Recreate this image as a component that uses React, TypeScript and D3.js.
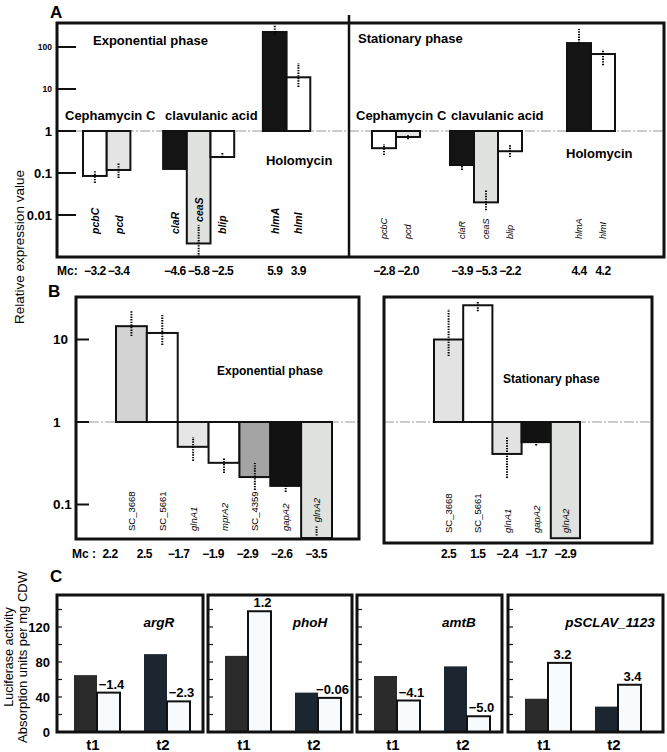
import React from "react";
import * as d3 from "d3";

const W = 667;
const H = 752;
const FONT = "'Liberation Sans', Arial, Helvetica, sans-serif";

// ---------- Panel A data ----------
const genesA = ["pcbC", "pcd", "claR", "ceaS", "blip", "hlmA", "hlmI"];
const groupOfA = [0, 0, 1, 1, 1, 2, 2];
const groupNamesA = ["Cephamycin C", "clavulanic acid", "Holomycin"];
const fillA = ["#ffffff", "#e4e4e4", "#141414", "#dfe2de", "#ffffff", "#141414", "#ffffff"];
const expA = [0.085, 0.118, 0.125, 0.0021, 0.24, 228, 19];
const expALo = [0.058, 0.076, 0.125, 0.001, 0.24, 193, 11.2];
const expAHi = [0.115, 0.17, 0.125, 0.0058, 0.32, 333, 41.7];
const statA = [0.39, 0.72, 0.155, 0.02, 0.33, 124, 68];
const statALo = [0.27, 0.64, 0.118, 0.013, 0.24, 124, 37];
const statAHi = [0.49, 0.85, 0.147, 0.039, 0.46, 268, 85];
const mcExpA = ["\u22123.2", "\u22123.4", "\u22124.6", "\u22125.8", "\u22122.5", "5.9", "3.9"];
const mcStatA = ["\u22122.8", "\u22122.0", "\u22123.9", "\u22125.3", "\u22122.2", "4.4", "4.2"];
const ticksA = [100, 10, 1, 0.1, 0.01];
const tickLabelsA = ["100", "10", "1", "0.1", "0.01"];

// ---------- Panel B data ----------
const genesBExp = ["SC_3668", "SC_5661", "glnA1", "mprA2", "SC_4359", "gapA2", "glnA2"];
const fillBExp = ["#d3d3d3", "#ffffff", "#e6e6e6", "#ffffff", "#a4a4a4", "#121212", "#dfe2df"];
const expB = [14.5, 12, 0.5, 0.32, 0.215, 0.168, 0.039];
const expBLo = [11.0, 8.6, 0.337, 0.241, 0.15, 0.142, 0.042];
const expBHi = [22.8, 19.8, 0.66, 0.366, 0.318, 0.168, 0.056];
const mcExpB = ["2.2", "2.5", "\u22121.7", "\u22121.9", "\u22122.9", "\u22122.6", "\u22123.5"];
const genesBStat = ["SC_3668", "SC_5661", "glnA1", "gapA2", "glnA2"];
const fillBStat = ["#e3e3e3", "#ffffff", "#e2e2e2", "#121212", "#dfe2df"];
const statB = [10, 26, 0.41, 0.57, 0.039];
const statBLo = [6.3, 22, 0.21, 0.52, 0.039];
const statBHi = [23.4, 28.5, 0.66, 0.57, 0.039];
const mcStatB = ["2.5", "1.5", "\u22122.4", "\u22121.7", "\u22122.9"];
const ticksB = [10, 1, 0.1];
const tickLabelsB = ["10", "1", "0.1"];

// ---------- Panel C data ----------
const genesC = ["argR", "phoH", "amtB", "pSCLAV_1123"];
const timesC = ["t1", "t2"];
const ctrlT1 = [65, 87, 64, 38];
const mutT1 = [45, 138, 36, 79];
const ctrlT2 = [89, 45, 75, 29];
const mutT2 = [35, 39, 18, 54];
const foldT1 = ["\u22121.4", "1.2", "\u22124.1", "3.2"];
const foldT2 = ["\u22122.3", "\u22120.06", "\u22125.0", "3.4"];
const ticksC = [0, 40, 80, 120];
const minorC = [20, 40, 60, 80, 100, 120, 140];

const MC_SIZE = 12;
const MC_LS = -0.5;

function ErrBar({ x, y1, y2 }: { x: number; y1: number; y2: number }) {
  if (Math.abs(y1 - y2) < 0.5) return null;
  return <line x1={x} x2={x} y1={y1} y2={y2} stroke="#000" strokeWidth={2} strokeDasharray="1.4 1.2" />;
}

function PanelA(props: any) {
  const { vals, lo, hi, mc, x0, unit, gaps, y, geneY, geneBold, geneSize, labelDx, labelY, mcY, lineX } = props;
  const xs = d3.scaleLinear().domain([0, 1]).range([x0, x0 + unit]);
  const pos = genesA.map((_, i) => i + gaps.slice(0, groupOfA[i]).reduce((a: number, b: number) => a + b, 0));
  const y1 = y(1);
  return (
    <g>
      <line x1={lineX[0]} x2={lineX[1]} y1={y1} y2={y1} stroke="#9a9a9a" strokeWidth={1} strokeDasharray="10 2 2 2" />
      {genesA.map((g, i) => {
        const xa = xs(pos[i]);
        const xb = xs(pos[i] + 1);
        const yv = y(vals[i]);
        return (
          <rect key={g} x={xa} y={Math.min(y1, yv)} width={xb - xa} height={Math.abs(yv - y1)}
            fill={fillA[i]} stroke="#111" strokeWidth={2} />
        );
      })}
      {genesA.map((g, i) => {
        const cx = (xs(pos[i]) + xs(pos[i] + 1)) / 2;
        return <ErrBar key={g} x={cx} y1={Math.min(y(lo[i]), 257)} y2={y(hi[i])} />;
      })}
      {genesA.map((g, i) => {
        const cx = (xs(pos[i]) + xs(pos[i] + 1)) / 2;
        const errTop = y(hi[i]);
        const ay = vals[i] < 1 && y(vals[i]) > geneY - 20 ? Math.min(geneY, errTop - 3) : geneY;
        return (
          <text key={g} transform={`translate(${cx},${ay}) rotate(-90)`} dominantBaseline="central"
            fontStyle="italic" fontWeight={geneBold ? "bold" : "normal"} fontSize={geneSize}>{g}</text>
        );
      })}
      {groupNamesA.map((n, gi) => {
        const first = groupOfA.indexOf(gi);
        return (
          <text key={n} x={xs(pos[first]) + labelDx[gi]} y={labelY[gi]} fontWeight="bold" fontSize={13}>{n}</text>
        );
      })}
      {genesA.map((g, i) => {
        const cx = (xs(pos[i]) + xs(pos[i] + 1)) / 2;
        return <text key={g} x={cx} y={mcY} textAnchor="middle" fontWeight="bold" fontSize={MC_SIZE}
          letterSpacing={MC_LS}>{mc[i]}</text>;
      })}
    </g>
  );
}

function PanelB(props: any) {
  const { genes, fills, vals, lo, hi, range, y, lineX, geneY, clipBottom } = props;
  const x = d3.scaleBand<string>().domain(genes).range(range).paddingInner(0);
  const y1 = y(1);
  return (
    <g>
      <line x1={lineX[0]} x2={lineX[1]} y1={y1} y2={y1} stroke="#9a9a9a" strokeWidth={1} strokeDasharray="10 2 2 2" />
      {genes.map((g: string, i: number) => {
        const yv = Math.min(y(vals[i]), clipBottom);
        return <rect key={g} x={x(g)} y={Math.min(y1, yv)} width={x.bandwidth()} height={Math.abs(yv - y1)}
          fill={fills[i]} stroke="#111" strokeWidth={2} />;
      })}
      {genes.map((g: string, i: number) => (
        <ErrBar key={g} x={(x(g) as number) + x.bandwidth() / 2} y1={y(lo[i])} y2={y(hi[i])} />
      ))}
      {genes.map((g: string, i: number) => {
        const errTop = y(hi[i]);
        const ay = vals[i] < 1 && y(vals[i]) > geneY - 20 && errTop < geneY ? Math.min(geneY, errTop - 3) : geneY;
        return (
          <text key={g} transform={`translate(${(x(g) as number) + x.bandwidth() / 2},${ay}) rotate(-90)`}
            dominantBaseline="central" fontSize={9.5} fontStyle={g.startsWith("SC_") ? "normal" : "italic"}>{g}</text>
        );
      })}
    </g>
  );
}

export default function App() {
  const yA = d3.scaleLog().domain([0.001, 1000]).range([257, 5]);
  const yB = d3.scaleLog().domain([0.01, 100]).range([587, 257]);
  const yC = d3.scaleLinear().domain([0, 160]).range([732, 592]);

  const xBRight = d3.scaleBand<string>().domain(genesBStat).range([434, 580]);
  const mcBLeft = d3.scalePoint<string>().domain(genesBExp).range([110, 316]);

  const cLefts = [57, 208, 357, 508];
  const cRights = [203, 352, 502, 663];

  return (
    <svg width={W} height={H} style={{ position: "absolute", left: 0, top: 0, background: "#fff" }}
      fontFamily={FONT}>
      <rect x={0} y={0} width={W} height={H} fill="#fff" />

      {/* ================= Panel A ================= */}
      <text x={50} y={18} fontWeight="bold" fontSize={17}>A</text>
      <text transform="translate(19,247) rotate(-90)" textAnchor="middle" dominantBaseline="central" fontSize={13.5}>
        Relative expression value
      </text>
      {ticksA.map((t, i) => (
        <g key={t}>
          <line x1={57} x2={76} y1={yA(t)} y2={yA(t)} stroke="#111" strokeWidth={2} />
          <text x={52} y={yA(t)} textAnchor="end" dominantBaseline="central" fontWeight="bold"
            fontSize={t >= 10 ? 8.5 : 13}>{tickLabelsA[i]}</text>
        </g>
      ))}
      <PanelA vals={expA} lo={expALo} hi={expAHi} mc={mcExpA} x0={83} unit={23.7} gaps={[1.38, 1.21]}
        y={yA} geneY={234} geneBold={true} geneSize={10.5} labelDx={[-18, 2, 3]} labelY={[120, 120, 165]}
        mcY={275} lineX={[76, 349]} />
      <PanelA vals={statA} lo={statALo} hi={statAHi} mc={mcStatA} x0={372} unit={24} gaps={[1.25, 1.875]}
        y={yA} geneY={239} geneBold={false} geneSize={9} labelDx={[-16, 1, -1]} labelY={[120, 120, 158]}
        mcY={275} lineX={[349, 664]} />
      <text x={93} y={45} fontWeight="bold" fontSize={13}>Exponential phase</text>
      <text x={358} y={43} fontWeight="bold" fontSize={13}>Stationary phase</text>
      <text x={57} y={275} fontWeight="bold" fontSize={MC_SIZE}>Mc:</text>
      <rect x={57} y={23} width={607} height={234} fill="none" stroke="#111" strokeWidth={3} />
      <line x1={349} x2={349} y1={15} y2={257} stroke="#111" strokeWidth={2.5} />

      {/* ================= Panel B ================= */}
      <text x={48} y={297} fontWeight="bold" fontSize={17}>B</text>
      {ticksB.map((t, i) => (
        <g key={t}>
          <line x1={76} x2={89} y1={yB(t)} y2={yB(t)} stroke="#111" strokeWidth={2} />
          <text x={53} y={yB(t)} dominantBaseline="central" fontWeight="bold" fontSize={13.5}>{tickLabelsB[i]}</text>
        </g>
      ))}
      <PanelB genes={genesBExp} fills={fillBExp} vals={expB} lo={expBLo} hi={expBHi} range={[116, 332]}
        y={yB} lineX={[89, 359]} geneY={531} clipBottom={538} />
      <PanelB genes={genesBStat} fills={fillBStat} vals={statB} lo={statBLo} hi={statBHi} range={[434, 580]}
        y={yB} lineX={[384, 652]} geneY={533} clipBottom={539} />
      <text x={217} y={375} fontWeight="bold" fontSize={12}>Exponential phase</text>
      <text x={503} y={383} fontWeight="bold" fontSize={12}>Stationary phase</text>
      <rect x={76} y={297} width={283} height={242} fill="none" stroke="#111" strokeWidth={3} />
      <rect x={384} y={297} width={268} height={246} fill="none" stroke="#111" strokeWidth={3} />
      <text x={72} y={558} fontWeight="bold" fontSize={MC_SIZE}>Mc :</text>
      {genesBExp.map((g, i) => (
        <text key={g} x={mcBLeft(g)} y={558} textAnchor="middle" fontWeight="bold" fontSize={MC_SIZE}
          letterSpacing={MC_LS}>{mcExpB[i]}</text>
      ))}
      {genesBStat.map((g, i) => (
        <text key={g} x={(xBRight(g) as number) + xBRight.bandwidth() / 2} y={558} textAnchor="middle"
          fontWeight="bold" fontSize={MC_SIZE} letterSpacing={MC_LS}>{mcStatB[i]}</text>
      ))}

      {/* ================= Panel C ================= */}
      <text x={50} y={582} fontWeight="bold" fontSize={17}>C</text>
      <text transform="translate(9,657) rotate(-90)" textAnchor="middle" dominantBaseline="central" fontSize={12.5}>
        Luciferase activity
      </text>
      <text transform="translate(22,657) rotate(-90)" textAnchor="middle" dominantBaseline="central" fontSize={13}>
        Absorption units per mg CDW
      </text>
      {ticksC.map((t) => (
        <text key={t} x={50} y={yC(t)} textAnchor="end" dominantBaseline="central" fontWeight="bold" fontSize={13}>{t}</text>
      ))}
      {genesC.map((g, k) => {
        const L = cLefts[k];
        const R = cRights[k];
        const xb = d3.scaleBand<string>().domain(timesC).range([L + 5, L + 145]);
        const bw = 23;
        const c1 = (xb("t1") as number) + xb.bandwidth() / 2;
        const c2 = (xb("t2") as number) + xb.bandwidth() / 2;
        const bars = [
          { x: c1 - bw, v: ctrlT1[k], fill: "#2b2b2b", stroke: "none" },
          { x: c1, v: mutT1[k], fill: "#f8fbfd", stroke: "#111" },
          { x: c2 - bw, v: ctrlT2[k], fill: "#1b2631", stroke: "none" },
          { x: c2, v: mutT2[k], fill: "#f8fbfd", stroke: "#111" },
        ];
        return (
          <g key={g}>
            {bars.map((b, j) => (
              <rect key={j} x={b.x} y={yC(b.v)} width={bw} height={yC(0) - yC(b.v)} fill={b.fill}
                stroke={b.stroke} strokeWidth={2} />
            ))}
            <text x={c1 + bw / 2 + 3} y={yC(mutT1[k]) - 4} textAnchor="middle" fontWeight="bold" fontSize={13}>{foldT1[k]}</text>
            <text x={c2 + bw / 2 + 3} y={yC(mutT2[k]) - 4} textAnchor="middle" fontWeight="bold" fontSize={13}>{foldT2[k]}</text>
            {minorC.map((t) => (
              <line key={t} x1={L} x2={L + 5} y1={yC(t)} y2={yC(t)} stroke="#111" strokeWidth={1.2} />
            ))}
            <text x={c2 - 8} y={627} textAnchor="middle" fontWeight="bold" fontStyle="italic" fontSize={13.5}>{g}</text>
            <rect x={L} y={595} width={R - L} height={137} fill="none" stroke="#111" strokeWidth={3} />
            {timesC.map((t) => (
              <text key={t} x={(xb(t) as number) + xb.bandwidth() / 2 - 4} y={750} textAnchor="middle"
                fontWeight="bold" fontSize={15}>{t}</text>
            ))}
          </g>
        );
      })}
    </svg>
  );
}
